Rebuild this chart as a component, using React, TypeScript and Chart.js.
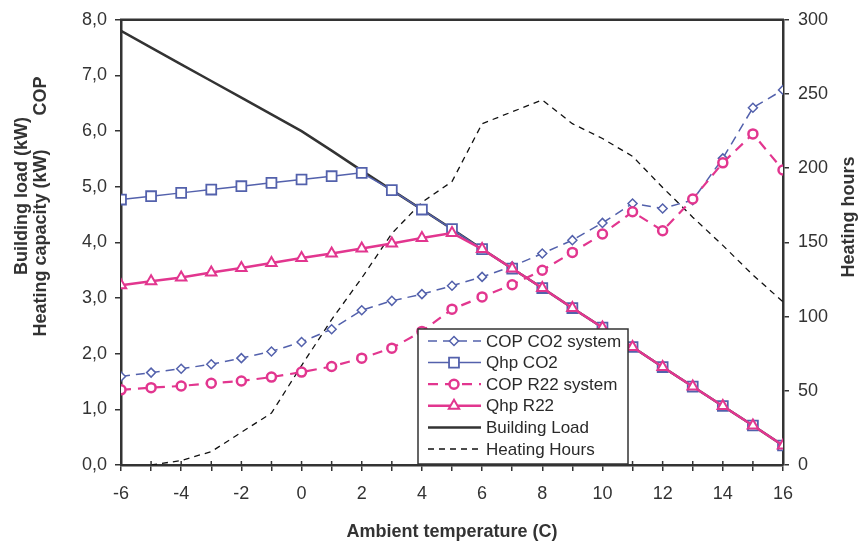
import React, { useEffect, useRef } from "react";
import { Chart, registerables } from "chart.js";
import { drawPoint } from "chart.js/helpers";

Chart.register(...registerables);

const temps = [-6, -5, -4, -3, -2, -1, 0, 1, 2, 3, 4, 5, 6, 7, 8, 9, 10, 11, 12, 13, 14, 15, 16];
const copCO2 = [1.59, 1.66, 1.73, 1.81, 1.92, 2.04, 2.21, 2.44, 2.78, 2.95, 3.07, 3.22, 3.38, 3.57, 3.8, 4.04, 4.35, 4.7, 4.61, 4.76, 5.51, 6.42, 6.74];
const qhpCO2 = [4.77, 4.83, 4.89, 4.95, 5.01, 5.07, 5.13, 5.19, 5.25, 4.94, 4.59, 4.24, 3.88, 3.53, 3.18, 2.82, 2.47, 2.12, 1.76, 1.41, 1.06, 0.71, 0.35];
const copR22 = [1.35, 1.39, 1.42, 1.47, 1.51, 1.58, 1.67, 1.77, 1.92, 2.1, 2.4, 2.8, 3.02, 3.24, 3.5, 3.82, 4.15, 4.55, 4.21, 4.78, 5.43, 5.95, 5.3];
const qhpR22 = [3.23, 3.3, 3.37, 3.46, 3.54, 3.63, 3.72, 3.8, 3.89, 3.98, 4.08, 4.17, 3.88, 3.53, 3.18, 2.82, 2.47, 2.12, 1.76, 1.41, 1.06, 0.71, 0.35];
const buildingLoad = [7.8, 7.5, 7.2, 6.9, 6.6, 6.3, 6.0, 5.65, 5.29, 4.94, 4.59, 4.24, 3.88, 3.53, 3.18, 2.82, 2.47, 2.12, 1.76, 1.41, 1.06, 0.71, 0.35];
const heatingHours = [null, 0, 3, 9, 22, 35, 67, 98, 126, 156, 177, 191, 230, 238, 246, 230, 220, 208, 187, 167, 148, 128, 110];

const seriesLabels = ["COP CO2 system", "Qhp CO2", "COP R22 system", "Qhp R22", "Building Load", "Heating Hours"];
const xTitle = "Ambient temperature (C)";
const yTitleOuter = "Building load (kW)";
const yTitleInner = "Heating capacity (kW)";
const yTitleCop = "COP";
const y1Title = "Heating hours";

const BLUE = "#5361AC";
const PINK = "#E2368F";
const DARK = "#333333";
const FONT = '"Liberation Sans", Arial, sans-serif';

const toXY = (vals: (number | null)[]) => temps.map((t, i) => ({ x: t, y: vals[i] }));

const overlayPlugin = {
  id: "overlay",
  afterDraw(chart: any) {
    const ctx = chart.ctx as CanvasRenderingContext2D;
    const ca = chart.chartArea;
    ctx.save();
    // top border of plot area
    ctx.strokeStyle = DARK;
    ctx.lineWidth = 2.5;
    ctx.beginPath();
    ctx.moveTo(ca.left - 1, ca.top);
    ctx.lineTo(ca.right + 1, ca.top);
    ctx.stroke();

    // small inner stubs of x ticks (ticks cross the axis)
    ctx.lineWidth = 1.5;
    const xs = chart.scales.x;
    temps.forEach((t) => {
      const px = xs.getPixelForValue(t);
      ctx.beginPath();
      ctx.moveTo(px, ca.bottom);
      ctx.lineTo(px, ca.bottom - 4);
      ctx.stroke();
    });

    // axis titles
    ctx.fillStyle = DARK;
    ctx.font = `bold 18px ${FONT}`;
    ctx.textAlign = "center";
    ctx.textBaseline = "middle";
    ctx.fillText(xTitle, (ca.left + ca.right) / 2, 532);

    const rot = (text: string, x: number, y: number) => {
      ctx.save();
      ctx.translate(x, y);
      ctx.rotate(-Math.PI / 2);
      ctx.fillText(text, 0, 0);
      ctx.restore();
    };
    rot(yTitleOuter, 22, 196);
    rot(yTitleInner, 41, 243);
    rot(yTitleCop, 41, 96);
    rot(y1Title, 849, 217);

    // legend
    const bx = 418, by = 329, bw = 210, bh = 135;
    ctx.fillStyle = "#ffffff";
    ctx.fillRect(bx, by, bw, bh);
    ctx.strokeStyle = DARK;
    ctx.lineWidth = 1.5;
    ctx.strokeRect(bx, by, bw, bh);

    const ds = chart.data.datasets;
    const rowY0 = 341;
    const step = 21.6;
    ds.forEach((d: any, i: number) => {
      const y = rowY0 + i * step;
      ctx.save();
      ctx.strokeStyle = d.borderColor;
      ctx.lineWidth = d.borderWidth;
      ctx.setLineDash(d.borderDash || []);
      ctx.beginPath();
      ctx.moveTo(428, y);
      ctx.lineTo(481, y);
      ctx.stroke();
      ctx.setLineDash([]);
      if (d.pointRadius > 0) {
        ctx.fillStyle = d.pointBackgroundColor;
        ctx.strokeStyle = d.pointBorderColor;
        ctx.lineWidth = d.pointBorderWidth;
        drawPoint(ctx, { pointStyle: d.pointStyle, radius: d.pointRadius, borderWidth: d.pointBorderWidth, rotation: 0 } as any, 454, y);
      }
      ctx.restore();
      ctx.fillStyle = "#2a2a2a";
      ctx.font = `17px ${FONT}`;
      ctx.textAlign = "left";
      ctx.textBaseline = "middle";
      ctx.fillText(d.label, 486, y + 1);
    });
    ctx.restore();
  },
};

export default function App() {
  const ref = useRef<HTMLCanvasElement | null>(null);
  useEffect(() => {
    if (!ref.current) return;
    const tickFont = { family: FONT, size: 18 };
    const chart = new Chart(ref.current, {
      type: "line",
      data: {
        datasets: [
          {
            label: seriesLabels[0],
            data: toXY(copCO2),
            borderColor: BLUE,
            borderWidth: 1.5,
            borderDash: [9, 6],
            pointStyle: "rectRot",
            pointRadius: 4.5,
            pointBorderWidth: 1.5,
            pointBackgroundColor: "#ffffff",
            pointBorderColor: BLUE,
            order: 3,
          },
          {
            label: seriesLabels[1],
            data: toXY(qhpCO2),
            borderColor: BLUE,
            borderWidth: 1.5,
            pointStyle: "rect",
            pointRadius: 7,
            pointBorderWidth: 1.8,
            pointBackgroundColor: "#ffffff",
            pointBorderColor: BLUE,
            order: 2,
          },
          {
            label: seriesLabels[2],
            data: toXY(copR22),
            borderColor: PINK,
            borderWidth: 2.2,
            borderDash: [10, 7],
            pointStyle: "circle",
            pointRadius: 4.5,
            pointBorderWidth: 2.5,
            pointBackgroundColor: "#ffffff",
            pointBorderColor: PINK,
            order: 1,
          },
          {
            label: seriesLabels[3],
            data: toXY(qhpR22),
            borderColor: PINK,
            borderWidth: 2.5,
            pointStyle: "triangle",
            pointRadius: 6,
            pointBorderWidth: 2,
            pointBackgroundColor: "#ffffff",
            pointBorderColor: PINK,
            order: 0,
          },
          {
            label: seriesLabels[4],
            data: toXY(buildingLoad),
            borderColor: DARK,
            borderWidth: 2.5,
            pointRadius: 0,
            pointStyle: "circle",
            order: 4,
          },
          {
            label: seriesLabels[5],
            data: toXY(heatingHours),
            yAxisID: "y1",
            borderColor: "#111111",
            borderWidth: 1.3,
            borderDash: [6, 5],
            pointRadius: 0,
            pointStyle: "circle",
            order: 5,
          },
        ] as any,
      },
      options: {
        animation: false,
        responsive: false,
        devicePixelRatio: 1,
        layout: { padding: { top: 17, left: 0, right: 0, bottom: 0 } },
        plugins: { legend: { display: false }, tooltip: { enabled: false } },
        elements: { line: { tension: 0 } },
        scales: {
          x: {
            type: "linear",
            min: -6,
            max: 16,
            ticks: {
              stepSize: 1,
              autoSkip: false,
              maxRotation: 0,
              font: tickFont,
              color: DARK,
              padding: 12,
              callback: (v: any) => (Number(v) % 2 === 0 ? String(v) : ""),
            },
            grid: { drawOnChartArea: false, tickLength: 6, color: DARK, lineWidth: 1.5 },
            border: { color: DARK, width: 2.5 },
            afterFit: (s: any) => {
              s.height = 81;
            },
          },
          y: {
            position: "left",
            min: 0,
            max: 8,
            ticks: {
              stepSize: 1,
              font: tickFont,
              color: DARK,
              padding: 8,
              callback: (v: any) => Number(v).toFixed(1).replace(".", ","),
            },
            grid: { drawOnChartArea: false, tickLength: 6, color: DARK, lineWidth: 1.5 },
            border: { color: DARK, width: 2.5 },
            afterFit: (s: any) => {
              s.width = 121;
            },
          },
          y1: {
            position: "right",
            min: 0,
            max: 300,
            ticks: { stepSize: 50, font: tickFont, color: DARK, padding: 9 },
            grid: { drawOnChartArea: false, tickLength: 6, color: DARK, lineWidth: 1.5 },
            border: { color: DARK, width: 2.5 },
            afterFit: (s: any) => {
              s.width = 75;
            },
          },
        },
      } as any,
      plugins: [overlayPlugin],
    });
    return () => chart.destroy();
  }, []);

  return (
    <div style={{ position: "absolute", left: 0, top: 0, width: 858, height: 546, background: "#fff" }}>
      <canvas ref={ref} width={858} height={546} style={{ width: 858, height: 546, display: "block" }} />
    </div>
  );
}
